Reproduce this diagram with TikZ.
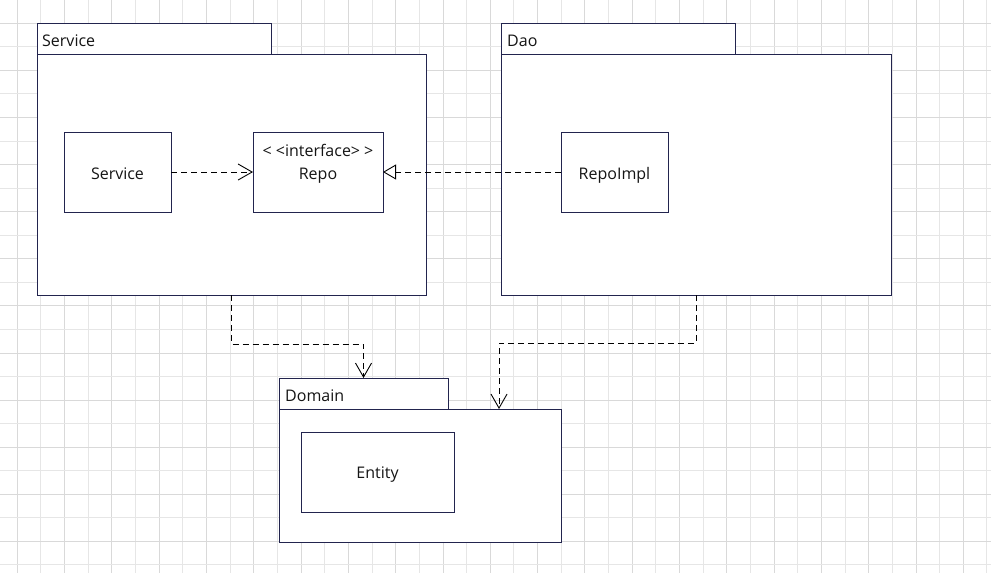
\documentclass[tikz,border=0pt]{standalone}
\usepackage{fontspec}
\setmainfont{Open Sans}
\usetikzlibrary{arrows.meta,calc}
\definecolor{navy}{HTML}{22244E}
\definecolor{gridA}{HTML}{D9D9D9}
\definecolor{gridB}{HTML}{E6E6E6}
\definecolor{txt}{HTML}{151515}
\tikzset{
  pkgpart/.style={draw=navy, line width=0.9pt, fill=white, rectangle, inner sep=0pt, outer sep=0pt, anchor=north west},
  classbox/.style={draw=navy, line width=0.9pt, fill=white, rectangle, inner sep=0pt, outer sep=0pt, anchor=north west},
  lbl/.style={text=txt, inner sep=0pt, font=\fontsize{16}{19}\selectfont},
  dep/.style={draw=black, line width=0.9pt, dash pattern=on 6pt off 4pt, -{Straight Barb[length=14pt,width=16pt,line width=0.9pt]}},
  real/.style={draw=black, line width=0.9pt, dash pattern=on 6pt off 4pt, -{Triangle[open,length=13pt,width=15pt,line width=0.9pt,fill=white]}},
}
\begin{document}
\begin{tikzpicture}[x=1pt,y=-1pt]
\useasboundingbox (0,0) rectangle (991,573);
\fill[white] (0,0) rectangle (991,573);
% grid
\foreach \i in {0,...,41}{
  \pgfmathsetmacro{\gx}{17.3+23.65*\i}
  \pgfmathtruncatemacro{\gpar}{mod(\i,2)}
  \ifnum\gpar=0 \draw[gridA, line width=1pt] (\gx,0) -- (\gx,573);
  \else \draw[gridB, line width=1pt] (\gx,0) -- (\gx,573); \fi
}
\foreach \j in {0,...,23}{
  \pgfmathsetmacro{\gy}{23.3+23.55*\j}
  \pgfmathtruncatemacro{\gpar}{mod(\j,2)}
  \ifnum\gpar=0 \draw[gridA, line width=1pt] (0,\gy) -- (991,\gy);
  \else \draw[gridB, line width=1pt] (0,\gy) -- (991,\gy); \fi
}

% Service package
\node[pkgpart, minimum width=234pt, minimum height=31pt] (svctab) at (37,23) {};
\node[pkgpart, minimum width=389pt, minimum height=241pt] (svcbody) at (37,54) {};
\node[lbl, anchor=base west] (svclbl) at (42,46) {Service};

% Dao package
\node[pkgpart, minimum width=234pt, minimum height=31pt] (daotab) at (501,23) {};
\node[pkgpart, minimum width=390pt, minimum height=241pt] (daobody) at (501,54) {};
\node[lbl, anchor=base west] (daolbl) at (507,46) {Dao};

% Domain package
\node[pkgpart, minimum width=169pt, minimum height=31pt] (domtab) at (279,378) {};
\node[pkgpart, minimum width=282pt, minimum height=133pt] (dombody) at (279,409) {};
\node[lbl, anchor=base west] (domlbl) at (285,401) {Domain};

% classes
\node[classbox, minimum width=107pt, minimum height=80pt] (svc) at (64,132) {};
\node[lbl, anchor=base] at (117.5,179) {Service};
\node[classbox, minimum width=130pt, minimum height=80pt] (repo) at (253,132) {};
\node[lbl, anchor=base] at (318,156) {<\kern4pt<interface>\kern4pt>};
\node[lbl, anchor=base] at (318,179) {Repo};
\node[classbox, minimum width=107pt, minimum height=80pt] (impl) at (561,132) {};
\node[lbl, anchor=base] at (614.5,179) {RepoImpl};
\node[classbox, minimum width=153pt, minimum height=80pt] (ent) at (301,432) {};
\node[lbl, anchor=base] at (377.5,478) {Entity};

% connectors
\draw[dep] (svc.east) -- (repo.west);
\draw[real] (impl.west) -- (repo.east);
\coordinate (domend) at ($(dombody.north west)+(220,0)$);
\draw[dep] (svcbody.south) -- ++(0,49) -| (domtab.north);
\draw[dep] (daobody.south) -- ++(0,48) -| (domend);
\end{tikzpicture}
\end{document}
